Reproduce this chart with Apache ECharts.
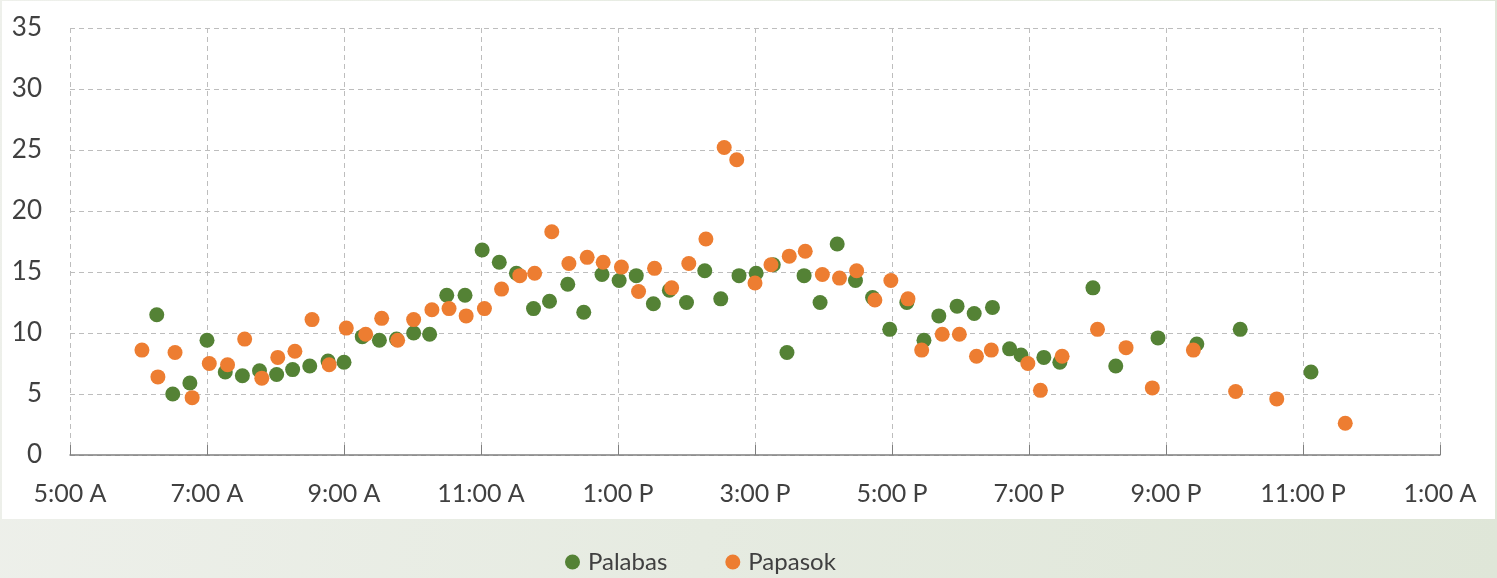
<!DOCTYPE html>
<html>
<head>
<meta charset="utf-8">
<script src="https://cdn.jsdelivr.net/npm/echarts@6/dist/echarts.min.js"></script>
<style>
  html, body { margin: 0; padding: 0; }
  body {
    width: 1497px; height: 578px; overflow: hidden; position: relative;
    background: linear-gradient(100deg, #eef0eb 0%, #e6ebe1 50%, #dfe6d8 100%);
  }
  #panel { position: absolute; left: 2px; top: 1px; width: 1493px; height: 518px; background: #fff; }
  #main { position: absolute; left: 0; top: 0; width: 1497px; height: 578px; }
</style>
</head>
<body>
<div id="panel"></div>
<div id="main"></div>
<script>
// Palabas (green)
const palabasTimes = ['6:16','6:30','6:45','7:00','7:16','7:31','7:46','8:01','8:15','8:30',
  '8:46','9:00','9:16','9:31','9:46','10:01','10:15','10:30','10:46','11:01',
  '11:16','11:31','11:46','12:00','12:16','12:30','12:46','13:01','13:16','13:31',
  '13:45','14:00','14:16','14:30','14:46','15:01','15:16','15:28','15:43','15:57',
  '16:12','16:28','16:43','16:58','17:13','17:28','17:41','17:57','18:12','18:28',
  '18:43','18:53','19:13','19:27','19:56','20:16','20:53','21:27','22:05','23:07'];
const palabasValues = [11.5, 5.0, 5.9, 9.4, 6.8, 6.5, 6.9, 6.6, 7.0, 7.3,
  7.7, 7.6, 9.7, 9.4, 9.5, 10.0, 9.9, 13.1, 13.1, 16.8,
  15.8, 14.9, 12.0, 12.6, 14.0, 11.7, 14.8, 14.3, 14.7, 12.4,
  13.5, 12.5, 15.1, 12.8, 14.7, 14.9, 15.6, 8.4, 14.7, 12.5,
  17.3, 14.3, 12.9, 10.3, 12.5, 9.4, 11.4, 12.2, 11.6, 12.1,
  8.7, 8.2, 8.0, 7.6, 13.7, 7.3, 9.6, 9.1, 10.3, 6.8];

// Papasok (orange)
const papasokTimes = ['6:03','6:17','6:32','6:47','7:02','7:18','7:33','7:48','8:02','8:17',
  '8:32','8:47','9:02','9:19','9:33','9:47','10:01','10:17','10:32','10:47',
  '11:03','11:18','11:34','11:47','12:02','12:17','12:33','12:47','13:03','13:18',
  '13:32','13:47','14:02','14:17','14:33','14:44','15:00','15:14','15:30','15:44',
  '15:59','16:14','16:29','16:45','16:59','17:14','17:26','17:44','17:59','18:14',
  '18:27','18:59','19:10','19:29','20:00','20:25','20:48','21:24','22:01','22:37','23:37'];
const papasokValues = [8.6, 6.4, 8.4, 4.7, 7.5, 7.4, 9.5, 6.3, 8.0, 8.5,
  11.1, 7.4, 10.4, 9.9, 11.2, 9.4, 11.1, 11.9, 12.0, 11.4,
  12.0, 13.6, 14.7, 14.9, 18.3, 15.7, 16.2, 15.8, 15.4, 13.4,
  15.3, 13.7, 15.7, 17.7, 25.2, 24.2, 14.1, 15.6, 16.3, 16.7,
  14.8, 14.5, 15.1, 12.7, 14.3, 12.8, 8.6, 9.9, 9.9, 8.1,
  8.6, 7.5, 5.3, 8.1, 10.3, 8.8, 5.5, 8.6, 5.2, 4.6, 2.6];

const seriesNames = ['Palabas', 'Papasok'];

function toHours(t) {
  const p = t.split(':');
  return +p[0] + (+p[1]) / 60;
}
function pairs(times, vals) {
  return times.map((t, i) => [toHours(t), vals[i]]);
}
function hourLabel(h) {
  const hh = Math.round(h) % 24;
  const suffix = hh < 12 ? 'A' : 'P';
  let h12 = hh % 12;
  if (h12 === 0) h12 = 12;
  return h12 + ':00 ' + suffix;
}

const font = 'Lato, "Noto Sans", sans-serif';
const txt = '#404040';
const chart = echarts.init(document.getElementById('main'));
chart.setOption({
  backgroundColor: 'transparent',
  animation: false,
  grid: { left: 70, right: 57, top: 28, bottom: 123 },
  legend: {
    data: seriesNames,
    left: 560,
    top: 545,
    itemWidth: 15,
    itemHeight: 15,
    itemGap: 58,
    icon: 'circle',
    textStyle: { fontFamily: font, fontSize: 24, color: txt, padding: [0, 0, 0, 3] }
  },
  xAxis: {
    type: 'value',
    min: 5, max: 25, interval: 2,
    axisLine: { show: true, lineStyle: { color: '#7f7f7f', width: 1.5 } },
    axisTick: { show: true, inside: true, length: 10, lineStyle: { color: '#7f7f7f' } },
    axisLabel: {
      fontFamily: font, fontSize: 25, color: txt, margin: 26,
      formatter: hourLabel
    },
    splitLine: { show: true, lineStyle: { color: '#bdbdbd', type: [5, 4], width: 1 } }
  },
  yAxis: {
    type: 'value',
    min: 0, max: 35, interval: 5,
    axisLine: { show: false },
    axisTick: { show: false },
    axisLabel: { fontFamily: font, fontSize: 26, color: txt, margin: 28 },
    splitLine: { show: true, lineStyle: { color: '#bdbdbd', type: [5, 4], width: 1 } }
  },
  series: [
    {
      name: seriesNames[0], type: 'scatter', symbolSize: 15,
      itemStyle: { color: '#548235', opacity: 1 },
      data: pairs(palabasTimes, palabasValues)
    },
    {
      name: seriesNames[1], type: 'scatter', symbolSize: 15,
      itemStyle: { color: '#ed7d31', opacity: 1 },
      data: pairs(papasokTimes, papasokValues)
    }
  ]
});
</script>
</body>
</html>
